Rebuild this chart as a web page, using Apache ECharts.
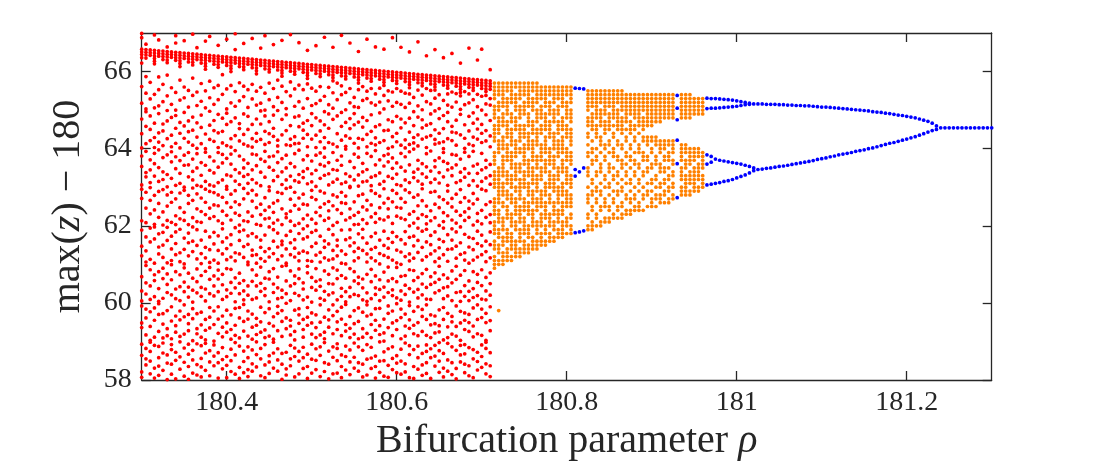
<!DOCTYPE html>
<html><head><meta charset="utf-8">
<script src="https://cdn.jsdelivr.net/npm/echarts@6/dist/echarts.min.js"></script>
<style>html,body{margin:0;padding:0;background:#fff}#c{width:1094px;height:469px}</style>
</head><body><div id="c"></div>
<script>
const xTicks = [180.4, 180.6, 180.8, 181, 181.2];
const yTicks = [58, 60, 62, 64, 66];

// chaotic regime (red)
const rhoRed = [180.300,180.305,180.310,180.315,180.320,180.325,180.330,180.335,180.340,180.345,180.350,180.355,180.360,180.365,180.370,180.375,180.380,180.385,180.390,180.395,180.400,180.405,180.410,180.415,180.420,180.425,180.430,180.435,180.440,180.445,180.450,180.455,180.460,180.465,180.470,180.475,180.480,180.485,180.490,180.495,180.500,180.505,180.510,180.515,180.520,180.525,180.530,180.535,180.540,180.545,180.550,180.555,180.560,180.565,180.570,180.575,180.580,180.585,180.590,180.595,180.600,180.605,180.610,180.615,180.620,180.625,180.630,180.635,180.640,180.645,180.650,180.655,180.660,180.665,180.670,180.675,180.680,180.685,180.690,180.695,180.700,180.705,180.710];
const zRed = [
[66.58,66.51,66.44,66.36,66.22,66.88,66.99,61.47,64.02,58.93,62.71,59.36,65.18,60.05,63.54,58.21,61.89,64.77,59.92,62.13,60.68,63.06,65.61,58.64,61.22,64.39,59.48,62.95,60.31,63.81,58.07],
[66.57,66.50,66.43,66.35,66.71,59.84,63.27,60.52,65.03,58.39,62.46,64.58,61.06,59.17,63.93,58.82,60.97,65.44,62.08,61.71,64.13,58.55,63.38,60.23,62.87,59.61,65.87,61.35,64.96],
[66.56,66.49,66.42,62.31,58.74,64.85,60.44,63.12,59.03,61.58,65.29,58.16,62.66,60.86,63.71,64.21,59.77,61.13,58.49,65.72,62.99,60.09,63.45,59.39,64.50,61.94,58.98],
[66.55,66.48,66.41,66.34,66.27,66.20,66.95,60.73,64.29,58.31,62.04,65.41,59.55,61.66,63.88,58.90,60.16,62.79,64.66,59.11,63.29,61.03,58.05,65.06,62.41,60.58,63.61,59.87,61.97,64.03],
[66.54,66.47,66.40,66.82,63.97,58.58,61.27,65.53,59.70,62.22,60.37,64.41,58.12,63.15,61.79,59.26,65.11,62.58,60.81,64.91,58.87,63.51,61.45,59.98,62.89,60.04,64.17,58.36,65.86],
[66.53,66.46,66.39,66.31,59.45,62.94,64.64,58.70,61.18,63.40,60.63,65.22,59.09,62.36,58.25,64.08,61.83,60.12,63.77,59.72,65.67,62.02,58.96,61.50,64.46,60.90,63.20],
[66.52,66.45,66.38,66.30,66.23,66.64,65.37,61.62,58.44,63.84,60.27,62.51,59.33,64.72,58.01,61.04,63.33,60.75,65.91,62.14,59.80,64.26,58.65,61.96,63.01,60.48,62.80,59.15,64.99],
[66.51,66.44,66.37,62.61,59.90,64.35,58.15,61.40,63.66,60.21,65.15,58.79,62.09,59.53,64.81,61.10,60.60,63.23,58.41,65.58,62.87,59.07,61.73,64.05,60.99,63.92,58.92],
[66.50,66.43,66.36,66.29,66.93,66.74,58.51,61.84,63.48,60.11,65.00,59.24,62.26,64.53,58.03,61.25,63.05,60.81,65.46,59.66,62.70,64.14,58.72,61.54,63.79,60.36,62.03,59.41,64.86],
[66.49,66.42,66.35,66.28,66.21,66.13,64.68,60.42,62.85,58.28,63.36,59.79,61.30,65.26,58.99,62.47,60.06,64.02,61.91,59.13,63.69,58.60,65.78,62.18,60.73,61.07,64.40,59.56,63.10],
[66.48,66.41,66.34,66.80,61.01,63.57,58.83,64.94,60.29,62.35,59.19,65.32,58.46,61.68,63.00,60.91,64.27,59.64,62.92,58.10,65.60,61.39,63.83,60.54,62.14,59.95,64.59],
[66.47,66.40,66.33,66.25,59.28,62.58,64.17,58.67,61.22,63.90,60.41,65.08,58.02,62.79,59.70,64.72,61.56,60.15,63.27,58.93,65.51,62.03,59.46,61.81,64.44,60.77,63.58,58.35],
[66.46,66.39,66.32,66.24,66.17,66.97,63.19,58.52,61.97,64.48,60.02,62.66,59.59,65.38,58.18,61.33,63.73,60.64,64.09,59.02,62.21,58.77,65.83,61.60,63.41,60.33,62.98,59.85,64.82],
[66.45,66.38,66.31,66.62,60.88,64.30,58.40,62.44,65.12,59.33,61.49,63.05,58.94,60.26,62.83,64.67,59.72,63.50,61.14,58.13,65.47,62.11,60.55,63.87,59.20,61.90,64.01],
[66.44,66.37,66.30,66.22,62.09,59.76,64.55,58.34,61.63,63.31,60.17,65.23,58.89,62.72,59.11,64.13,61.02,60.71,63.64,58.56,65.69,62.37,59.43,61.28,64.87,60.40,63.02,58.08],
[66.43,66.36,66.29,66.21,66.14,66.06,66.79,58.70,61.44,63.91,60.36,65.06,59.04,62.29,64.38,58.25,61.86,63.15,60.82,65.50,59.57,62.61,64.00,58.95,61.17,63.57,60.05,62.95,59.29],
[66.42,66.35,66.28,66.91,64.24,60.61,62.19,58.47,63.44,59.88,61.71,65.32,58.11,62.89,60.24,64.61,61.05,59.35,63.79,58.76,65.75,62.46,60.92,61.38,64.97,59.63,63.06],
[66.41,66.34,66.27,66.19,61.53,63.03,58.91,64.73,60.18,62.54,59.44,65.15,58.37,61.11,63.68,60.70,64.19,59.01,62.24,58.62,65.58,61.83,63.37,60.44,62.86,59.79,64.47],
[66.40,66.33,66.26,66.18,66.11,66.68,59.90,62.80,64.41,58.05,61.36,63.52,60.85,65.27,58.71,62.13,59.21,64.89,61.74,60.29,63.12,58.45,65.64,62.52,59.58,61.03,64.03,60.62,63.90],
[66.39,66.32,66.25,63.63,58.29,61.92,64.15,60.47,62.38,59.66,65.41,58.84,61.27,63.19,60.09,64.79,59.12,62.74,58.53,65.92,61.58,63.85,60.74,62.06,59.37,64.45],
[66.38,66.31,66.24,66.16,66.84,60.34,64.63,58.61,62.95,65.03,59.48,61.41,63.32,58.06,60.89,62.27,64.08,59.81,63.75,61.69,58.38,65.55,62.60,60.16,63.02,59.24,61.12,64.92],
[66.37,66.30,66.23,66.15,66.08,66.00,62.48,59.06,64.26,58.80,61.77,63.60,60.53,65.19,58.22,62.15,59.69,64.70,61.19,60.87,63.29,58.50,65.64,62.82,59.31,61.51,64.04,60.25,63.86],
[66.36,66.29,66.22,66.98,66.57,58.97,61.30,63.95,60.65,65.10,59.42,62.62,64.34,58.15,61.95,63.46,60.03,65.48,59.86,62.33,64.80,58.65,61.09,63.16,60.39,62.91,59.16],
[66.35,66.28,66.21,66.13,64.52,60.24,62.02,58.33,63.81,59.61,61.62,65.24,58.88,62.55,60.77,64.20,61.27,59.09,63.37,58.04,65.71,62.27,60.51,61.85,64.65,59.88,63.07],
[66.34,66.27,66.20,66.12,66.05,66.73,61.89,63.28,58.48,64.90,60.08,62.70,59.27,65.35,58.75,61.46,63.71,60.58,64.37,59.52,62.13,58.19,65.62,61.18,63.50,60.31,62.97,59.96,64.12],
[66.33,66.26,66.19,59.58,62.36,64.50,58.09,61.52,63.10,60.99,65.07,58.86,62.84,59.14,64.07,61.06,60.44,63.62,58.58,65.53,62.11,59.79,61.74,64.84,60.20,63.33,58.27],
[66.32,66.25,66.18,66.10,66.86,63.45,58.78,61.23,64.04,60.56,62.25,59.37,65.29,58.23,61.80,63.86,60.09,64.63,59.06,62.64,58.42,65.67,61.37,63.20,60.86,62.92,59.71,64.26],
[66.31,66.24,66.17,66.09,66.02,65.94,60.44,64.19,58.34,62.47,65.13,59.18,61.71,63.56,58.99,60.72,62.04,64.77,59.60,63.11,61.25,58.66,65.49,62.80,60.13,63.84,59.42,61.03,64.40],
[66.30,66.23,66.16,66.61,62.56,59.89,64.64,58.55,61.15,63.39,60.30,65.18,58.11,62.01,59.51,64.24,61.63,60.93,63.73,58.82,65.59,62.29,59.24,61.44,64.98,60.51,63.04],
[66.29,66.22,66.15,66.07,66.93,58.39,61.76,63.67,60.19,65.00,59.75,62.40,64.45,58.92,61.08,63.26,60.64,65.44,59.30,62.73,64.11,58.06,61.33,63.93,60.37,62.18,59.10,64.85],
[66.28,66.21,66.14,66.06,65.99,64.39,60.81,62.20,58.63,63.52,59.47,61.97,65.27,58.17,62.91,60.03,64.70,61.41,59.85,63.01,58.47,65.70,62.49,60.62,61.19,64.16,59.14,63.79],
[66.27,66.20,66.13,66.70,61.28,63.17,58.98,64.87,60.49,62.59,59.06,65.09,58.31,61.60,63.81,60.27,64.32,59.64,62.35,58.70,65.56,61.90,63.44,60.89,62.07,59.40,64.53],
[66.26,66.19,66.12,66.04,59.73,62.87,64.22,58.23,61.45,63.64,60.67,65.33,58.81,62.15,59.28,64.99,61.12,60.39,63.28,58.52,65.78,62.65,59.91,61.81,64.07,60.11,63.92],
[66.25,66.18,66.11,66.03,65.96,65.88,66.81,63.74,58.41,61.60,64.36,60.14,62.44,59.52,65.20,58.02,61.22,63.07,60.95,64.76,59.13,62.84,58.69,65.62,61.51,63.40,60.33,62.03,59.80],
[66.24,66.17,66.10,60.97,64.47,58.72,62.31,65.04,59.33,61.40,63.50,58.29,60.57,62.97,64.10,59.99,63.83,61.03,58.13,65.48,62.21,60.24,63.19,59.61,61.75,64.88],
[66.23,66.16,66.09,66.01,66.96,62.12,59.55,64.08,58.37,61.86,63.29,60.44,65.37,58.90,62.69,59.17,64.60,61.25,60.83,63.62,58.55,65.73,62.38,59.40,61.56,64.25,60.06,63.00],
[66.22,66.15,66.08,66.00,65.93,58.61,61.19,63.87,60.25,65.10,59.81,62.53,64.31,58.08,61.64,63.17,60.70,65.55,59.26,62.01,64.82,58.83,61.42,63.53,60.50,62.87,59.04,64.13],
[66.21,66.14,66.07,66.75,64.57,60.63,62.06,58.49,63.33,59.69,61.80,65.22,58.16,62.43,60.19,64.14,61.09,59.47,63.96,58.74,65.65,62.72,60.88,61.29,64.85,59.85,63.13],
[66.20,66.13,66.06,65.98,61.66,63.25,58.85,64.66,60.08,62.82,59.11,65.05,58.30,61.34,63.71,60.52,64.27,59.57,62.18,58.58,65.53,61.92,63.41,60.36,62.56,59.31,64.48],
[66.19,66.12,66.05,65.97,65.90,65.82,66.55,59.42,62.54,64.73,58.04,61.30,63.48,60.78,65.30,58.67,62.28,59.88,64.05,61.71,60.15,63.09,58.35,65.68,62.00,59.63,61.10,64.37,60.95,63.82],
[66.18,66.11,66.04,63.35,58.54,61.83,64.25,60.40,62.17,59.48,65.12,58.93,61.08,63.68,60.66,64.91,59.19,62.74,58.18,65.57,61.46,63.14,60.02,62.92,59.74,64.60],
[66.17,66.10,66.03,65.95,66.67,60.56,64.03,58.27,62.68,65.17,59.10,61.55,63.44,58.81,60.33,62.35,64.80,59.69,63.83,61.24,58.51,65.49,62.06,60.89,63.02,59.36,61.88,64.35],
[66.16,66.09,66.02,65.94,65.87,62.26,59.95,64.46,58.64,61.31,63.59,60.12,65.25,58.09,62.90,59.50,64.18,61.73,60.60,63.23,58.86,65.61,62.48,59.17,61.06,64.72,60.43,63.89],
[66.15,66.08,66.01,66.89,58.45,61.61,63.78,60.30,64.96,59.63,62.14,64.29,58.97,61.17,63.31,60.83,65.36,59.24,62.57,64.02,58.22,61.44,63.55,60.07,62.85,59.07,64.62],
[66.14,66.07,66.00,65.92,64.16,60.74,62.39,58.41,63.64,59.37,61.91,65.14,58.75,62.63,60.21,64.53,61.11,59.82,63.06,58.03,65.59,62.20,60.50,61.53,64.90,59.56,63.35],
[66.13,66.06,65.99,65.91,65.84,65.76,66.63,61.14,63.46,58.59,64.76,60.49,62.52,59.20,65.05,58.16,61.77,63.90,60.26,64.12,59.67,62.01,58.86,65.45,61.36,63.13,60.91,62.80,59.95],
[66.12,66.05,65.98,59.31,62.75,64.39,58.18,61.48,63.21,60.63,65.27,58.82,62.09,59.78,64.85,61.63,60.08,63.70,58.50,65.70,62.42,59.51,61.22,64.05,60.85,63.44,58.94],
[66.11,66.04,65.97,65.89,66.94,63.81,58.65,61.35,64.58,60.17,62.32,59.58,65.40,58.06,61.03,63.09,60.71,64.22,59.15,62.87,58.35,65.63,61.89,63.57,60.38,62.60,59.89,64.94],
[66.10,66.03,65.96,65.88,65.81,60.64,64.33,58.88,62.58,65.01,59.44,61.64,63.35,58.26,60.29,62.15,64.68,59.96,63.99,61.26,58.61,65.46,62.77,60.03,63.13,59.27,61.01,64.06],
[66.09,66.02,65.95,66.74,62.44,59.65,64.78,58.47,61.90,63.67,60.40,65.19,58.14,62.99,59.10,64.27,61.48,60.89,63.28,58.78,65.56,62.21,59.34,61.69,64.52,60.16,63.02],
[66.08,66.01,65.94,65.86,58.96,61.56,63.51,60.22,65.09,59.80,62.62,64.14,58.31,61.09,63.86,60.57,65.33,59.46,62.27,64.62,58.59,61.33,63.19,60.81,62.03,59.19,64.91],
[66.07,66.00,65.93,65.85,65.78,65.70,66.52,64.27,60.50,62.78,58.23,63.32,59.52,61.79,65.07,58.86,62.35,60.19,64.02,61.17,59.07,63.78,58.45,65.53,62.04,60.67,61.42,64.69,59.87,63.03],
[66.06,65.99,65.92,61.36,63.14,58.77,64.56,60.08,62.49,59.33,65.25,58.41,61.69,63.62,60.39,64.24,59.76,62.16,58.08,65.61,61.91,63.40,60.62,62.82,59.11,64.81],
[66.05,65.98,65.91,65.83,66.84,59.66,62.66,64.05,58.54,61.06,63.46,60.74,65.30,58.13,62.06,59.21,64.73,61.55,60.26,63.16,58.92,65.49,62.41,59.95,61.27,64.37,60.04,63.88],
[66.04,65.97,65.90,65.82,65.75,63.26,58.30,61.72,64.45,60.55,62.23,59.44,65.19,58.85,61.17,63.80,60.11,64.88,59.10,62.91,58.57,65.56,61.39,63.04,60.87,62.54,59.70,64.14],
[66.03,65.96,65.89,66.64,60.39,64.10,58.62,62.84,65.13,59.29,61.44,63.58,58.05,60.70,62.32,64.57,59.85,63.95,61.09,58.35,65.42,62.09,60.22,63.30,59.55,61.81,64.28],
[66.02,65.95,65.88,65.80,62.18,59.86,64.62,58.49,61.63,63.37,60.06,65.21,58.99,62.77,59.41,64.16,61.28,60.60,63.71,58.20,65.57,62.47,59.18,61.01,64.93,60.35,63.08],
[66.01,65.94,65.87,65.79,65.72,65.64,66.58,58.73,61.23,63.82,60.41,65.03,59.58,62.15,64.21,58.10,61.86,63.15,60.80,65.38,59.22,62.59,64.47,58.50,61.49,63.55,60.15,62.96,59.01],
[66.00,65.93,65.86,64.48,60.57,62.44,58.38,63.66,59.73,61.18,65.24,58.81,62.71,60.27,64.01,61.67,59.36,63.28,58.07,65.50,62.23,60.93,61.42,64.75,59.92,63.86],
[65.99,65.92,65.85,65.77,66.88,61.57,63.23,58.56,64.70,60.19,62.92,59.15,65.10,58.27,61.11,63.76,60.63,64.31,59.48,62.06,58.86,65.47,61.83,63.49,60.34,62.62,59.79,64.05],
[65.98,65.91,65.84,65.76,65.69,59.54,62.48,64.18,58.19,61.37,63.63,60.92,65.20,58.63,62.25,59.98,64.84,61.04,60.13,63.07,58.44,65.56,62.84,59.31,61.72,64.40,60.55,63.34],
[65.97,65.90,65.83,66.63,63.04,58.80,61.64,64.54,60.31,62.20,59.62,65.15,58.15,61.00,63.52,60.69,64.09,59.07,62.71,58.49,65.49,61.32,63.88,60.07,62.46,59.84,64.77],
[65.96,65.89,65.82,65.74,60.71,64.23,58.42,62.61,65.07,59.40,61.53,63.19,58.96,60.22,62.16,64.67,59.71,63.79,61.20,58.21,65.44,62.93,60.46,63.42,59.14,61.85,64.02],
[65.95,65.88,65.81,65.73,65.66,65.58,66.51,62.00,59.93,64.43,58.66,61.27,63.58,60.02,65.18,58.06,62.86,59.34,64.11,61.70,60.86,63.12,58.89,65.42,62.30,59.56,61.09,64.79,60.37,63.92],
[65.94,65.87,65.80,58.35,61.73,63.39,60.58,64.96,59.78,62.37,64.29,58.79,61.16,63.99,60.28,65.33,59.20,62.74,64.60,58.04,61.48,63.25,60.84,62.07,59.42,64.15],
[65.93,65.86,65.79,65.71,66.77,64.36,60.66,62.52,58.28,63.70,59.49,61.94,65.11,58.88,62.19,60.13,64.82,61.31,59.90,63.16,58.58,65.52,62.80,60.35,61.62,64.07,59.15,63.47],
[65.92,65.85,65.78,65.70,65.63,61.11,63.61,58.69,64.75,60.21,62.65,59.26,65.01,58.12,61.44,63.08,60.76,64.25,59.65,62.29,58.39,65.39,61.86,63.35,60.49,62.96,59.83,64.54],
[65.91,65.84,65.77,66.41,59.16,62.24,64.61,58.45,61.58,63.26,60.87,65.22,58.91,62.05,59.57,64.03,61.20,60.40,63.87,58.17,65.56,62.51,59.95,61.91,64.30,60.10,63.53,58.74],
[65.90,65.83,65.76,65.68,63.42,58.58,61.27,64.34,60.48,62.87,59.43,65.16,58.04,61.75,63.94,60.09,64.90,59.10,62.39,58.81,65.51,61.51,63.12,60.68,62.13,59.69,64.65],
[65.89,65.82,65.75,65.67,65.60,65.52,66.57,60.26,64.12,58.90,62.21,64.98,59.66,61.84,63.53,58.36,60.78,62.56,64.49,59.22,63.69,61.07,58.62,65.31,62.89,60.53,63.21,59.46,61.35,64.24],
[65.88,65.81,65.74,62.47,59.25,64.40,58.20,61.43,63.11,60.95,65.04,58.76,62.01,59.82,64.78,61.65,60.32,63.76,58.49,65.40,62.75,59.41,61.16,64.15,60.61,63.38,58.97],
[65.87,65.80,65.73,65.65,66.36,58.69,61.94,63.67,60.11,64.86,59.04,62.34,64.18,58.31,61.25,63.27,60.73,65.25,59.57,62.68,64.52,58.08,61.59,63.90,60.39,62.11,59.88,64.00],
[65.86,65.79,65.72,65.64,65.57,64.26,60.42,62.59,58.52,63.45,59.38,61.77,65.13,58.95,62.26,60.18,64.70,61.08,59.73,63.05,58.23,65.42,62.90,60.64,61.39,64.94,59.10,63.62],
[65.85,65.78,65.71,66.47,61.40,63.30,58.86,64.58,60.06,62.49,59.65,65.08,58.14,61.63,63.85,60.52,64.21,59.19,62.15,58.45,65.47,61.92,63.50,60.83,62.71,59.51,64.43],
[65.84,65.77,65.70,65.62,59.39,62.82,64.09,58.30,61.16,63.58,60.61,65.21,58.77,62.07,59.92,64.74,61.84,60.27,63.12,58.03,65.43,62.38,59.14,61.47,64.41,60.95,63.83],
[65.83,65.76,65.69,65.61,65.54,65.46,66.22,63.17,58.47,61.56,64.36,60.29,62.27,59.48,65.02,58.90,61.26,63.73,60.72,64.89,59.03,62.61,58.65,65.37,61.97,63.39,60.04,62.94,59.78],
[65.82,65.75,65.68,60.84,64.01,58.68,62.73,65.14,59.31,61.30,63.48,58.19,60.45,62.36,64.62,59.74,63.91,61.11,58.41,65.48,62.14,60.17,63.26,59.55,61.78,64.27,58.92],
[65.81,65.74,65.67,65.59,66.61,62.22,59.70,64.46,58.37,61.45,63.36,60.06,65.19,58.84,62.64,59.26,64.12,61.70,60.57,63.80,58.11,65.42,62.45,59.49,61.03,64.84,60.30,63.05],
[65.80,65.73,65.66,65.58,65.51,58.55,61.11,63.55,60.37,64.93,59.87,62.02,64.30,58.06,61.67,63.17,60.81,65.27,59.12,62.57,64.66,58.79,61.38,63.93,60.14,62.84,59.40,64.08],
[65.79,65.72,65.65,66.30,64.51,60.53,62.32,58.26,63.60,59.57,61.86,65.09,58.72,62.12,60.19,64.25,61.19,59.95,63.03,58.48,65.41,62.69,60.74,61.54,64.77,59.20,63.36],
[65.78,65.71,65.64,65.56,66.58,61.25,63.45,58.91,64.63,60.45,62.40,59.16,65.00,58.33,61.76,63.88,60.10,64.16,59.62,62.05,58.61,65.36,61.48,63.15,60.86,62.95,59.84,64.40],
[65.77,65.70,65.63,65.55,65.48,59.49,62.91,64.20,58.16,61.33,63.70,60.66,65.16,58.82,62.22,59.03,64.88,61.60,60.31,63.24,58.42,65.38,62.55,59.73,61.07,64.47,60.08,63.51,58.98],
[65.76,65.69,65.62,65.54,66.05,63.08,58.71,61.51,64.33,60.20,62.62,59.54,65.13,58.09,61.17,63.59,60.78,64.73,59.28,62.29,58.37,65.30,61.84,63.30,60.50,62.08,59.90,64.05]
];

// banded chaos (orange)
const rhoOrange = [180.715,180.720,180.725,180.730,180.735,180.740,180.745,180.750,180.755,180.760,180.765,180.770,180.775,180.780,180.785,180.790,180.795,180.800,180.805,
180.825,180.830,180.835,180.840,180.845,180.850,180.855,180.860,180.865,180.870,180.875,180.880,180.885,180.890,180.895,180.900,180.905,180.910,180.915,180.920,180.925,
180.935,180.940,180.945,180.950,180.955,180.960];
const zOrange = [
[65.7,65.6,65.5,65.4,65.3,65.1,65.0,64.9,64.8,64.6,64.5,64.4,64.3,64.2,63.9,63.8,63.7,63.6,63.4,63.3,63.2,63.1,63.0,62.7,62.6,62.5,62.4,62.3,62.1,62.0,61.9,61.8,61.6,61.5,61.4,61.2,61.1,61.0,60.9],
[65.7,65.6,65.5,65.4,65.2,65.1,65.0,64.8,64.7,64.6,64.5,64.4,64.2,64.1,64.0,63.9,63.5,63.4,63.3,63.2,63.1,63.0,62.9,62.8,62.7,62.6,62.4,62.3,62.2,62.1,61.9,61.8,61.7,61.5,61.4,61.3,61.1,61.0,59.8],
[65.7,65.6,65.5,65.4,65.3,65.2,65.1,64.9,64.8,64.7,64.6,64.3,64.2,64.1,64.0,63.8,63.7,63.6,63.5,63.4,63.3,63.1,63.0,62.9,62.8,62.6,62.5,62.2,62.1,62.0,61.9,61.7,61.6,61.5,61.3,61.2,61.1,61.0],
[65.7,65.6,65.5,65.3,65.2,65.1,65.0,64.9,64.7,64.6,64.5,64.4,64.3,64.1,64.0,63.9,63.8,63.7,63.4,63.3,63.2,63.1,62.9,62.8,62.7,62.5,62.4,62.3,62.2,61.9,61.8,61.7,61.6,61.4,61.3,61.2,61.1],
[65.7,65.6,65.5,65.4,65.3,65.2,64.9,64.8,64.7,64.5,64.4,64.3,64.2,64.1,63.9,63.8,63.7,63.6,63.5,63.3,63.2,63.1,63.0,62.8,62.7,62.6,62.3,62.2,62.1,62.0,61.8,61.7,61.6,61.5,61.4,61.2,61.1],
[65.7,65.6,65.4,65.3,65.2,65.1,65.0,64.8,64.7,64.6,64.5,64.2,64.1,64.0,63.9,63.8,63.6,63.5,63.4,63.3,63.2,63.0,62.9,62.7,62.6,62.5,62.4,62.3,62.1,62.0,61.9,61.6,61.5,61.4,61.3,61.2],
[65.7,65.6,65.5,65.4,65.3,65.1,65.0,64.9,64.8,64.6,64.5,64.4,64.3,64.2,64.0,63.9,63.6,63.5,63.4,63.2,63.1,63.0,62.9,62.8,62.7,62.5,62.4,62.3,62.2,62.1,61.9,61.8,61.7,61.6,61.4,61.3,61.2],
[65.7,65.6,65.5,65.4,65.2,65.1,65.0,64.9,64.6,64.5,64.4,64.3,64.1,64.0,63.9,63.8,63.7,63.6,63.4,63.3,63.2,63.1,63.0,62.7,62.6,62.5,62.4,62.2,62.1,62.0,61.9,61.8,61.6,61.5,61.4,61.3],
[65.7,65.6,65.5,65.4,65.3,65.2,65.1,64.9,64.8,64.7,64.6,64.4,64.3,64.2,64.1,64.0,63.7,63.6,63.5,63.4,63.3,63.1,63.0,62.9,62.8,62.6,62.5,62.4,62.3,62.0,61.9,61.8,61.7,61.5,61.4,61.3],
[65.7,65.6,65.5,65.3,65.2,65.1,65.0,64.7,64.6,64.5,64.4,64.2,64.1,64.0,63.9,63.8,63.7,63.5,63.4,63.3,63.2,63.1,62.9,62.8,62.7,62.6,62.4,62.3,62.2,62.1,62.0,61.7,61.6,61.5,61.4],
[65.7,65.6,65.5,65.4,65.3,65.2,65.0,64.9,64.8,64.7,64.5,64.4,64.3,64.2,64.1,63.8,63.7,63.6,63.5,63.3,63.2,63.1,63.0,62.9,62.7,62.6,62.5,62.4,62.1,62.0,61.9,61.8,61.6,61.5,61.4],
[65.6,65.5,65.4,65.3,65.1,65.0,64.9,64.8,64.6,64.5,64.4,64.1,64.0,63.9,63.8,63.7,63.5,63.4,63.3,63.2,62.9,62.8,62.7,62.6,62.5,62.3,62.2,62.1,62.0,61.8,61.7,61.6,61.5],
[65.6,65.5,65.4,65.3,65.2,65.1,64.9,64.8,64.7,64.6,64.5,64.3,64.2,64.1,64.0,63.9,63.7,63.6,63.5,63.4,63.1,63.0,62.9,62.8,62.6,62.5,62.4,62.3,62.2,62.0,61.9,61.8,61.6,61.5],
[65.6,65.5,65.4,65.2,65.1,65.0,64.9,64.7,64.6,64.5,64.4,64.3,64.0,63.9,63.8,63.7,63.6,63.4,63.3,63.2,63.1,63.0,62.8,62.7,62.6,62.3,62.2,62.1,62.0,61.8,61.7,61.6],
[65.6,65.5,65.4,65.3,65.2,65.0,64.9,64.8,64.7,64.4,64.3,64.2,64.1,64.0,63.8,63.7,63.6,63.5,63.3,63.2,63.1,63.0,62.9,62.6,62.5,62.4,62.3,62.1,62.0,61.9,61.7,61.6],
[65.6,65.5,65.4,65.3,65.1,65.0,64.9,64.7,64.6,64.5,64.4,64.2,64.1,64.0,63.9,63.8,63.5,63.4,63.3,63.2,63.0,62.9,62.8,62.7,62.6,62.4,62.3,62.2,62.1,61.9,61.8,61.7],
[65.6,65.5,65.4,65.3,65.2,65.1,64.8,64.7,64.6,64.5,64.3,64.2,64.1,64.0,63.9,63.7,63.6,63.5,63.4,63.1,63.0,62.9,62.8,62.6,62.5,62.4,62.3,62.1,62.0,61.9,61.8,61.7],
[65.6,65.5,65.4,65.2,65.1,65.0,64.9,64.8,64.6,64.5,64.4,64.3,64.0,63.9,63.8,63.7,63.5,63.4,63.3,63.2,63.1,62.9,62.8,62.7,62.6,62.5,62.2,62.1,62.0,61.8],
[65.6,65.5,65.4,65.3,65.2,65.0,64.9,64.8,64.7,64.5,64.4,64.3,64.2,64.1,63.9,63.8,63.7,63.6,63.3,63.2,63.1,63.0,62.8,62.7,62.6,62.5,62.3,62.2,62.0,61.9,61.8],
[65.5,65.4,65.3,65.2,65.1,65.0,64.8,64.7,64.6,64.4,64.3,64.1,63.9,63.8,63.5,63.4,63.3,63.0,62.8,62.7,62.6,62.3,62.2,62.0,61.9],
[65.5,65.4,65.3,65.2,65.1,64.9,64.8,64.7,64.6,64.5,64.2,64.0,63.9,63.7,63.6,63.2,63.1,62.9,62.8,62.5,62.4,62.1,62.0,61.9],
[65.5,65.4,65.3,65.2,65.1,65.0,64.9,64.8,64.6,64.5,64.4,64.3,64.0,63.8,63.7,63.4,63.3,63.0,62.9,62.7,62.6,62.3,62.2,62.0],
[65.5,65.4,65.3,65.2,65.0,64.9,64.8,64.7,64.6,64.3,64.2,64.1,63.9,63.6,63.5,63.4,63.1,62.9,62.8,62.5,62.4,62.1,62.0],
[65.5,65.4,65.3,65.2,65.1,65.0,64.9,64.7,64.6,64.5,64.4,64.1,64.0,63.8,63.7,63.3,63.2,63.0,62.7,62.6,62.5,62.2,62.1],
[65.5,65.4,65.3,65.2,65.1,64.9,64.8,64.7,64.6,64.5,64.2,64.1,63.9,63.6,63.5,63.4,63.1,63.0,62.8,62.5,62.4,62.2,62.1],
[65.5,65.4,65.3,65.2,65.1,65.0,64.9,64.8,64.6,64.4,64.3,64.0,63.9,63.8,63.5,63.3,63.2,62.9,62.7,62.6,62.3,62.2],
[65.5,65.4,65.3,65.2,65.0,64.9,64.8,64.7,64.6,64.5,64.2,64.1,63.8,63.7,63.4,63.3,63.1,62.9,62.8,62.5,62.4,62.2],
[65.5,65.4,65.3,65.2,65.1,65.0,64.8,64.7,64.6,64.5,64.4,64.1,64.0,63.7,63.6,63.5,63.2,63.0,62.9,62.6,62.5,62.3,62.2],
[65.4,65.3,65.2,65.1,65.0,64.9,64.8,64.7,64.5,64.3,64.2,63.9,63.8,63.6,63.4,63.3,63.1,62.8,62.7,62.4,62.3],
[65.4,65.3,65.2,65.1,65.0,64.9,64.7,64.6,64.5,64.4,64.1,64.0,63.8,63.7,63.5,63.2,63.1,62.9,62.7,62.6,62.4,62.3],
[65.4,65.3,65.2,65.1,65.0,64.9,64.8,64.6,64.5,64.3,64.2,63.9,63.7,63.6,63.4,63.3,63.0,62.8,62.7,62.5,62.4],
[65.4,65.3,65.2,65.1,65.0,64.9,64.8,64.7,64.6,64.4,64.1,64.0,63.9,63.6,63.5,63.2,63.1,62.9,62.6,62.5,62.4],
[65.4,65.3,65.2,65.1,65.0,64.8,64.7,64.6,64.5,64.3,64.2,63.9,63.8,63.7,63.4,63.3,63.0,62.8,62.7,62.4],
[65.4,65.3,65.2,65.1,65.0,64.9,64.8,64.7,64.6,64.3,64.2,64.1,63.8,63.7,63.5,63.4,63.1,62.9,62.8,62.5],
[65.4,65.3,65.2,65.1,65.0,64.9,64.8,64.7,64.6,64.3,64.2,64.0,63.9,63.6,63.5,63.2,63.1,62.9,62.7,62.6,62.5],
[65.4,65.3,65.2,65.1,65.0,64.9,64.8,64.7,64.3,64.2,64.1,63.8,63.7,63.6,63.3,63.2,63.0,62.8,62.7,62.5],
[65.4,65.3,65.2,65.1,65.0,64.9,64.8,64.7,64.2,64.1,64.0,63.9,63.6,63.5,63.4,63.1,63.0,62.8,62.7,62.6],
[65.4,65.3,65.2,65.1,65.0,64.9,64.8,64.2,64.1,64.0,63.8,63.7,63.5,63.4,63.2,63.1,62.9,62.8,62.6],
[65.4,65.3,65.2,65.1,65.0,64.9,64.8,64.2,64.1,63.9,63.8,63.7,63.5,63.3,63.2,63.0,62.9,62.7,62.6],
[65.4,65.3,65.2,65.1,65.0,64.9,64.8,64.2,64.1,64.0,63.9,63.7,63.6,63.4,63.3,63.1,63.0,62.8,62.7],
[65.4,65.3,65.2,65.1,65.0,64.9,64.8,64.1,64.0,63.9,63.8,63.7,63.5,63.4,63.3,63.2,63.0,62.9,62.8],
[65.4,65.3,65.2,65.1,65.0,64.9,64.8,64.1,64.0,63.9,63.7,63.6,63.5,63.3,63.2,63.1,63.0,62.9,62.8],
[65.4,65.3,65.2,65.1,65.0,64.9,64.8,64.0,63.9,63.8,63.7,63.6,63.4,63.3,63.2,63.1,62.9,62.8],
[65.3,65.2,65.1,65.0,64.9,64.0,63.9,63.8,63.7,63.5,63.4,63.3,63.2,63.1,63.0,62.9],
[65.3,65.2,65.1,65.0,64.9,64.0,63.9,63.8,63.6,63.5,63.4,63.3,63.2,63.0,62.9],
[65.3,65.2,65.1,65.0,64.9,63.9,63.8,63.7,63.6,63.5,63.3,63.2,63.1,63.0]
];

// periodic windows and orbits (blue)
const rhoBlue = [180.810,180.815,180.820,180.930,
180.965,180.970,180.975,180.980,180.985,180.990,180.995,181.000,181.005,181.010,181.015,181.020,181.025,181.030,181.035,181.040,181.045,181.050,181.055,181.060,181.065,181.070,181.075,181.080,181.085,181.090,181.095,181.100,181.105,181.110,181.115,181.120,181.125,181.130,181.135,181.140,181.145,181.150,181.155,181.160,181.165,181.170,181.175,181.180,181.185,181.190,181.195,181.200,181.205,181.210,181.215,181.220,181.225,181.230,181.235,181.240,181.245,181.250,181.255,181.260,181.265,181.270,181.275,181.280,181.285,181.290,181.295,181.300];
const zBlue = [
[65.57,63.46,63.29,61.82],[65.56,63.40,61.84],[65.55,63.50,61.87],
[65.38,65.05,64.75,64.22,63.61,62.73],
[65.31,65.04,63.84,63.60,63.06],[65.30,65.05,63.80,63.65,63.08],[65.30,65.05,63.73,63.10],[65.29,65.06,63.70,63.12],
[65.28,65.07,63.68,63.15],[65.27,65.08,63.66,63.17],[65.26,65.09,63.64,63.20],[65.24,65.10,63.62,63.24],
[65.22,65.12,63.60,63.28],[65.20,65.14,63.57,63.32],[65.18,65.15,63.54,63.37],[65.16,63.50,63.43],
[65.16,63.46],[65.16,63.47],[65.15,63.49],[65.15,63.50],[65.15,63.52],[65.14,63.54],[65.14,63.55],[65.13,63.57],
[65.13,63.59],[65.12,63.61],[65.12,63.63],[65.11,63.65],[65.11,63.67],[65.10,63.69],[65.09,63.72],[65.08,63.74],
[65.08,63.76],[65.07,63.79],[65.06,63.81],[65.05,63.84],[65.04,63.86],[65.03,63.88],[65.02,63.90],[65.01,63.93],
[65.00,63.95],[64.99,63.97],[64.98,64.00],[64.96,64.02],[64.95,64.05],[64.94,64.08],[64.92,64.11],[64.91,64.14],
[64.89,64.16],[64.87,64.19],[64.86,64.22],[64.84,64.25],[64.82,64.28],[64.80,64.31],[64.77,64.35],[64.74,64.39],
[64.71,64.43],[64.66,64.47],[64.59,64.50],
[64.54],[64.54],[64.54],[64.54],[64.54],[64.54],[64.54],[64.54],[64.54],[64.54],[64.54],[64.54],[64.54]
];

function toPoints(rho, z) {
  const out = [];
  rho.forEach((r, i) => z[i].forEach(v => out.push([r, v])));
  return out;
}

const AX = '#262626';
const FONT = 'Liberation Serif';
const lineStyle = { color: AX, width: 1.3 };
const nameStyle = { fontFamily: FONT, fontSize: 40, color: AX,
  rich: { i: { fontFamily: FONT, fontSize: 40, fontStyle: 'italic', color: AX } } };

const chart = echarts.init(document.getElementById('c'), null, { renderer: 'canvas' });
chart.setOption({
  animation: false,
  backgroundColor: '#fff',
  grid: { left: 141.7, right: 102.3, top: 33, bottom: 89, containLabel: false },
  xAxis: [
    {
      type: 'value', min: 180.3, max: 181.3, position: 'bottom',
      name: 'Bifurcation parameter {i|ρ}', nameLocation: 'middle', nameGap: 37,
      nameTextStyle: nameStyle,
      axisLine: { show: true, lineStyle },
      axisTick: { show: true, inside: true, length: 9, customValues: xTicks, lineStyle },
      axisLabel: { customValues: xTicks, fontFamily: FONT, fontSize: 28, color: AX, margin: 9 },
      splitLine: { show: false }
    },
    {
      type: 'value', min: 180.3, max: 181.3, position: 'top',
      axisLine: { show: true, lineStyle },
      axisTick: { show: true, inside: true, length: 9, customValues: xTicks, lineStyle },
      axisLabel: { show: false }, splitLine: { show: false }
    }
  ],
  yAxis: [
    {
      type: 'value', min: 58, max: 67, position: 'left',
      name: 'max({i|z}) − 180', nameLocation: 'middle', nameGap: 53, nameRotate: 90,
      nameTextStyle: nameStyle,
      axisLine: { show: true, lineStyle },
      axisTick: { show: true, inside: true, length: 9, customValues: yTicks, lineStyle },
      axisLabel: { customValues: yTicks, fontFamily: FONT, fontSize: 28, color: AX, margin: 10 },
      splitLine: { show: false }
    },
    {
      type: 'value', min: 58, max: 67, position: 'right',
      axisLine: { show: true, lineStyle },
      axisTick: { show: true, inside: true, length: 9, customValues: yTicks, lineStyle },
      axisLabel: { show: false }, splitLine: { show: false }
    }
  ],
  series: [
    { type: 'scatter', name: 'chaos', data: toPoints(rhoRed, zRed), symbol: 'circle', symbolSize: 3.7,
      itemStyle: { color: '#ff0000', opacity: 1 }, z: 2, silent: true },
    { type: 'scatter', name: 'band', data: toPoints(rhoOrange, zOrange), symbol: 'circle', symbolSize: 3.7,
      itemStyle: { color: '#ff8000', opacity: 1 }, z: 3, silent: true },
    { type: 'scatter', name: 'periodic', data: toPoints(rhoBlue, zBlue), symbol: 'circle', symbolSize: 3.7,
      itemStyle: { color: '#0000ff', opacity: 1 }, z: 4, silent: true }
  ]
});
</script></body></html>
